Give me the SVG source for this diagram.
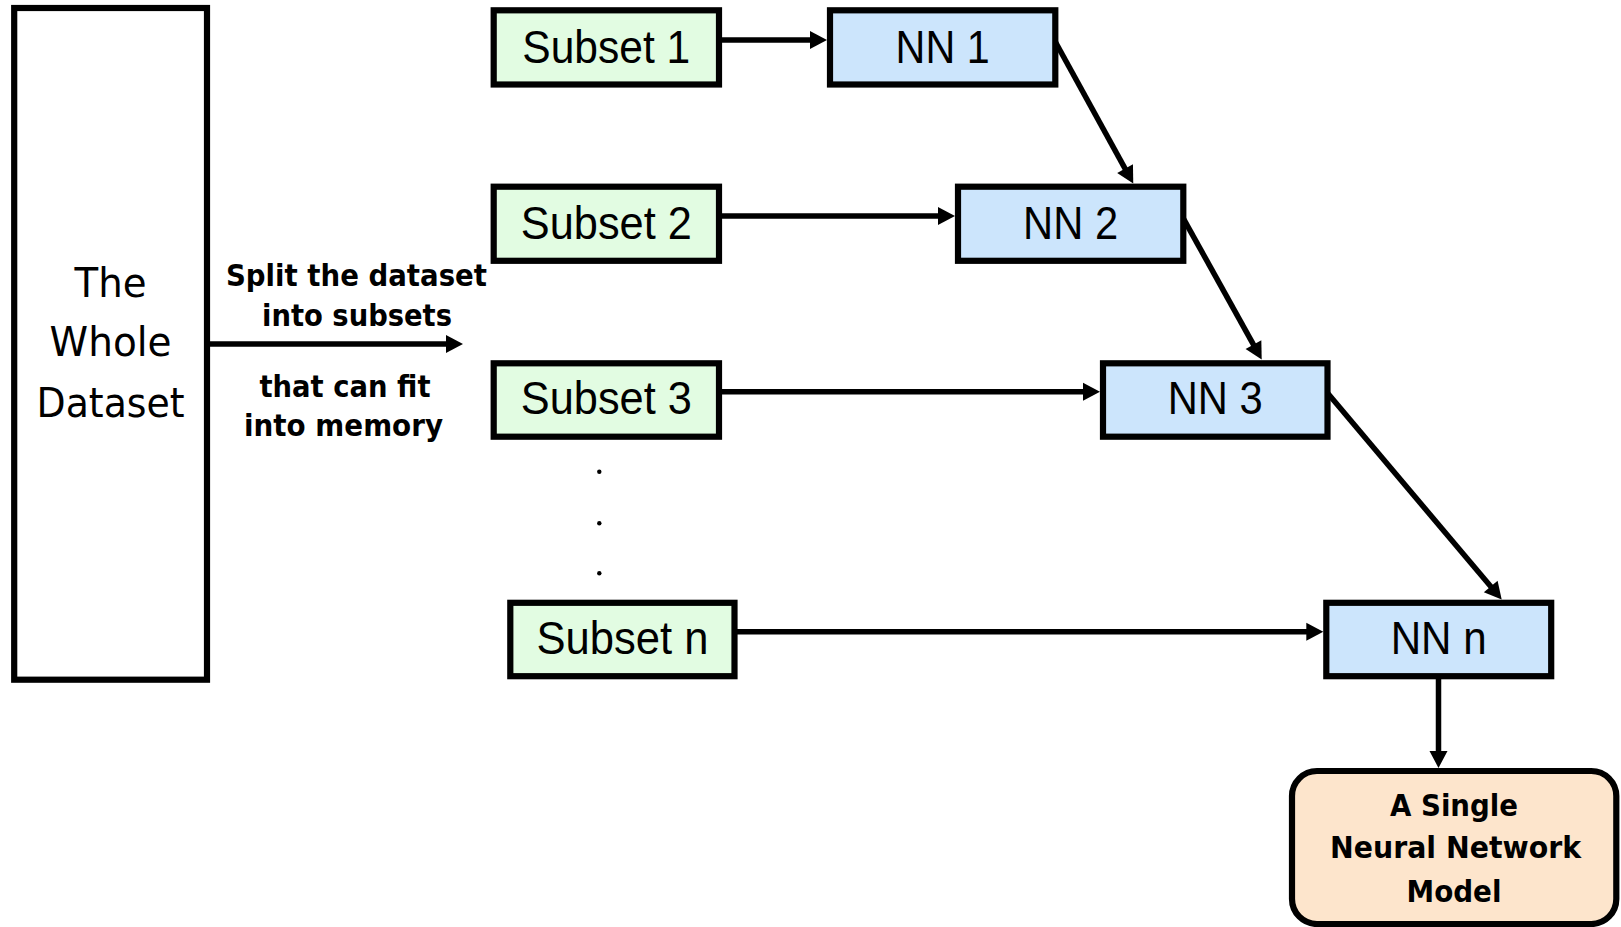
<svg xmlns="http://www.w3.org/2000/svg" width="1621" height="927" viewBox="0 0 1621 927">
<style>
.box{stroke:#000;stroke-width:6.2}
.sub{fill:#E2FCE2}
.nn{fill:#CCE5FC}
.fin{fill:#FDE5CC}
.whole{fill:#fff}
.lbl{font-family:"Liberation Sans",Arial,sans-serif;font-size:46px;fill:#000;text-anchor:middle}
.big{font-family:"DejaVu Sans",Verdana,sans-serif;font-size:41px;fill:#000;text-anchor:middle}
.bold{font-family:"DejaVu Sans",Verdana,sans-serif;font-weight:bold;font-size:30px;fill:#000;text-anchor:middle}
.con{stroke:#000;stroke-width:5.5;fill:none;marker-end:url(#ah)}
</style>
<defs>
<marker id="ah" markerUnits="userSpaceOnUse" markerWidth="20" markerHeight="20" refX="4" refY="9" orient="auto" overflow="visible">
<path d="M0,0 L17,9 L0,18 z" fill="#000"/>
</marker>
</defs>
<rect width="1621" height="927" fill="#fff"/>

<g id="whole">
<rect class="box whole" x="14.2" y="8" width="192.8" height="671.7"/>
<text class="big" x="110.6" y="297" textLength="72" lengthAdjust="spacingAndGlyphs">The</text>
<text class="big" x="110.6" y="356" textLength="122" lengthAdjust="spacingAndGlyphs">Whole</text>
<text class="big" x="110.6" y="417" textLength="148" lengthAdjust="spacingAndGlyphs">Dataset</text>
</g>

<g id="split-label">
<text class="bold" x="356.5" y="286" textLength="261" lengthAdjust="spacingAndGlyphs">Split the dataset</text>
<text class="bold" x="357" y="326" textLength="190" lengthAdjust="spacingAndGlyphs">into subsets</text>
<text class="bold" x="345" y="397" textLength="171" lengthAdjust="spacingAndGlyphs">that can fit</text>
<text class="bold" x="343.5" y="436" textLength="199" lengthAdjust="spacingAndGlyphs">into memory</text>
</g>

<g id="subset1">
<rect class="box sub" x="493.7" y="10.3" width="225.3" height="74.2"/>
<text class="lbl" x="606.3" y="62.5" textLength="168" lengthAdjust="spacingAndGlyphs">Subset 1</text>
</g>
<g id="subset2">
<rect class="box sub" x="493.7" y="186.7" width="225.3" height="74.1"/>
<text class="lbl" x="606.3" y="238.8" textLength="171" lengthAdjust="spacingAndGlyphs">Subset 2</text>
</g>
<g id="subset3">
<rect class="box sub" x="493.7" y="363.3" width="225.3" height="73.4"/>
<text class="lbl" x="606.3" y="414" textLength="171" lengthAdjust="spacingAndGlyphs">Subset 3</text>
</g>
<g id="dots">
<circle cx="599.3" cy="471.7" r="2.2" fill="#000"/>
<circle cx="599.3" cy="523.3" r="2.2" fill="#000"/>
<circle cx="599.3" cy="573.3" r="2.2" fill="#000"/>
</g>
<g id="subsetn">
<rect class="box sub" x="510.3" y="602.8" width="224.2" height="73.4"/>
<text class="lbl" x="622.4" y="653.8" textLength="172" lengthAdjust="spacingAndGlyphs">Subset n</text>
</g>

<g id="nn1">
<rect class="box nn" x="830" y="10.3" width="225.3" height="74.2"/>
<text class="lbl" x="942.6" y="62.5" textLength="94" lengthAdjust="spacingAndGlyphs">NN 1</text>
</g>
<g id="nn2">
<rect class="box nn" x="958" y="186.7" width="225.3" height="74.1"/>
<text class="lbl" x="1070.6" y="238.8" textLength="95" lengthAdjust="spacingAndGlyphs">NN 2</text>
</g>
<g id="nn3">
<rect class="box nn" x="1103" y="363.3" width="224.5" height="73.4"/>
<text class="lbl" x="1215.2" y="414" textLength="95" lengthAdjust="spacingAndGlyphs">NN 3</text>
</g>
<g id="nnn">
<rect class="box nn" x="1326.3" y="602.8" width="224.9" height="73.4"/>
<text class="lbl" x="1438.7" y="653.8" textLength="96" lengthAdjust="spacingAndGlyphs">NN n</text>
</g>

<g id="final">
<rect class="box fin" x="1292" y="771" width="324.3" height="153" rx="25" ry="25"/>
<text class="bold" x="1454" y="816" textLength="128" lengthAdjust="spacingAndGlyphs">A Single</text>
<text class="bold" x="1455.5" y="858.3" textLength="251" lengthAdjust="spacingAndGlyphs">Neural Network</text>
<text class="bold" x="1454" y="901.7" textLength="95" lengthAdjust="spacingAndGlyphs">Model</text>
</g>

<g id="connectors">
<line class="con" x1="207" y1="344" x2="450" y2="344"/>
<line class="con" x1="719" y1="40" x2="814" y2="40"/>
<line class="con" x1="719" y1="216" x2="942" y2="216"/>
<line class="con" x1="719" y1="391.7" x2="1087" y2="391.7"/>
<line class="con" x1="734.5" y1="631.7" x2="1310.3" y2="631.7"/>
<line class="con" x1="1055.3" y1="41.7" x2="1127" y2="172.1"/>
<line class="con" x1="1183.3" y1="218.3" x2="1255.4" y2="348.1"/>
<line class="con" x1="1327.5" y1="393" x2="1493.3" y2="589.6"/>
<line class="con" x1="1438.5" y1="676.2" x2="1438.5" y2="755"/>
</g>
</svg>
